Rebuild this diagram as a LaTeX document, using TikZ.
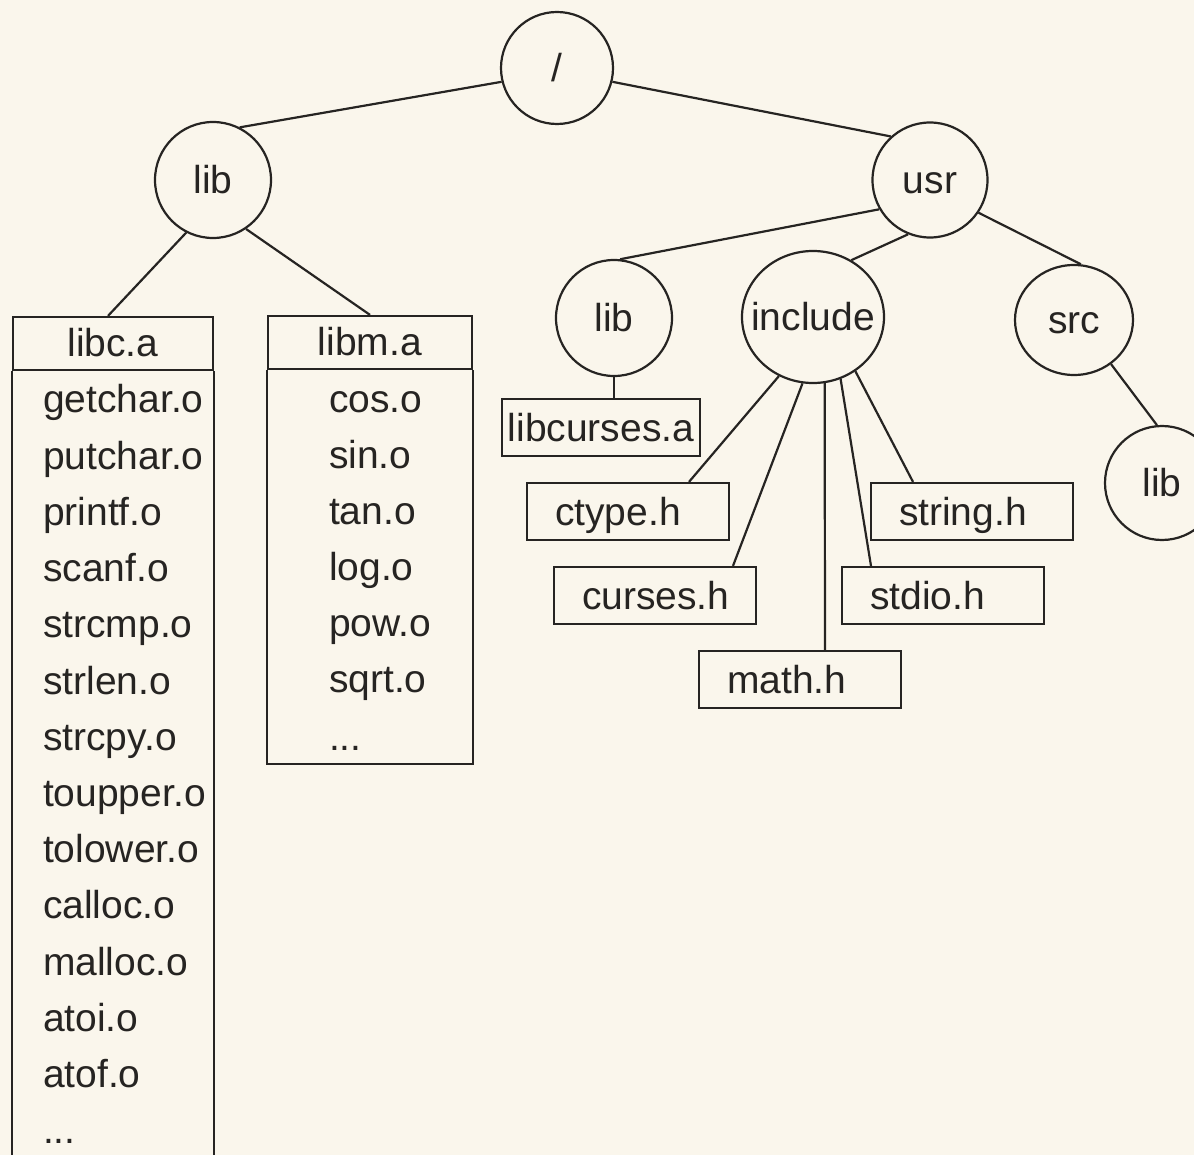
\documentclass[tikz,border=0pt]{standalone}
\usepackage{fontspec}
\setmainfont{Liberation Sans}
\usetikzlibrary{shapes.geometric,calc}
\definecolor{paper}{RGB}{250,246,236}
\definecolor{ink}{RGB}{38,36,34}
\begin{document}
\begin{tikzpicture}[x=1pt,y=-1pt,line width=2.2pt,
  every node/.style={font=\fontsize{39}{46}\selectfont,text=ink,text height=31pt,text depth=4pt,inner sep=0pt},
  dirnode/.style={circle,draw=ink,minimum size=#1},
  filebox/.style={rectangle,draw=ink,minimum height=57pt,inner xsep=28pt,text width=146pt,align=left},
  headbox/.style={rectangle,draw=ink,minimum height=53pt,minimum width=#1},
  item/.style={anchor=base west},
  link/.style={draw=ink,line width=2.2pt}]
\useasboundingbox (0,0) rectangle (1194,1155);
\clip (0,0) rectangle (1194,1155);
\fill[paper] (0,0) rectangle (1194,1155);

% directories
\node[dirnode=112pt] (root) at (557,68) {/};
\node[dirnode=116pt] (lib) at (213,180) {lib};
\node[dirnode=115pt] (usr) at (930,180) {usr};
\node[dirnode=116pt] (ulib) at (614,318) {lib};
\node[ellipse,draw=ink,minimum width=142pt,minimum height=132pt,inner xsep=-14pt] (include) at (813,317) {include};
\node[ellipse,draw=ink,minimum width=118pt,minimum height=110pt] (src) at (1074,320) {src};
\node[dirnode=114pt] (slib) at (1162,483) {lib};

% libraries
\node[headbox=200pt] (libc) at (113,343.5) {libc.a};
\node[headbox=204pt] (libm) at (370,342.5) {libm.a};
\draw[link] (libc.south west) -- ++(0,830);
\draw[link] (libc.south east) -- ++(0,830);
\draw[link] (libm.south west) -- ++(0,394) -| (libm.south east);

\foreach \t [count=\i] in {getchar.o,putchar.o,printf.o,scanf.o,strcmp.o,strlen.o,strcpy.o,toupper.o,tolower.o,calloc.o,malloc.o,atoi.o,atof.o}
  \node[item] (c\i) at (42,{413+56.2*(\i-1)}) {\t};
\node[item] (cdots) at (42,1143) {...};
\foreach \t [count=\i] in {cos.o,sin.o,tan.o,log.o,pow.o,sqrt.o}
  \node[item] (m\i) at (328,{413+55.9*(\i-1)}) {\t};
\node[item] (mdots) at (328,750) {...};

% files
\node[rectangle,draw=ink,minimum width=198pt,minimum height=57pt] (curses) at (601,427.5) {libcurses.a};
\node[filebox] (ctype) at (628,511.5) {ctype.h};
\node[filebox] (cursesh) at (655,595.5) {curses.h};
\node[filebox] (math) at (800,679.5) {math.h};
\node[filebox] (stdio) at (943,595.5) {stdio.h};
\node[filebox] (string) at (972,511.5) {string.h};

% connectors
\draw[link] (root.194) -- (lib.63);
\draw[link] (root.346) -- (usr.132);
\draw[link] (lib.243) -- ([xshift=-5pt]libc.north);
\draw[link] (lib.304) -- (libm.north);
\draw[link] (usr.210) -- (ulib.84);
\draw[link] (usr.248) -- (include.56);
\draw[link] (usr.326) -- (src.83);
\draw[link] (src.310) -- (slib.95);
\draw[link] (ulib.south) -- (ulib.south |- curses.north);
\draw[link] (include.240) -- ([xshift=61pt]ctype.north);
\draw[link] (include.261) -- ([xshift=78pt]cursesh.north);
\draw[link] (include.280) -- ([xshift=25pt]math.north);
\draw[link] (include.294) -- ([xshift=-72pt]stdio.north);
\draw[link] (include.308) -- ([xshift=-59pt]string.north);
\end{tikzpicture}
\end{document}
